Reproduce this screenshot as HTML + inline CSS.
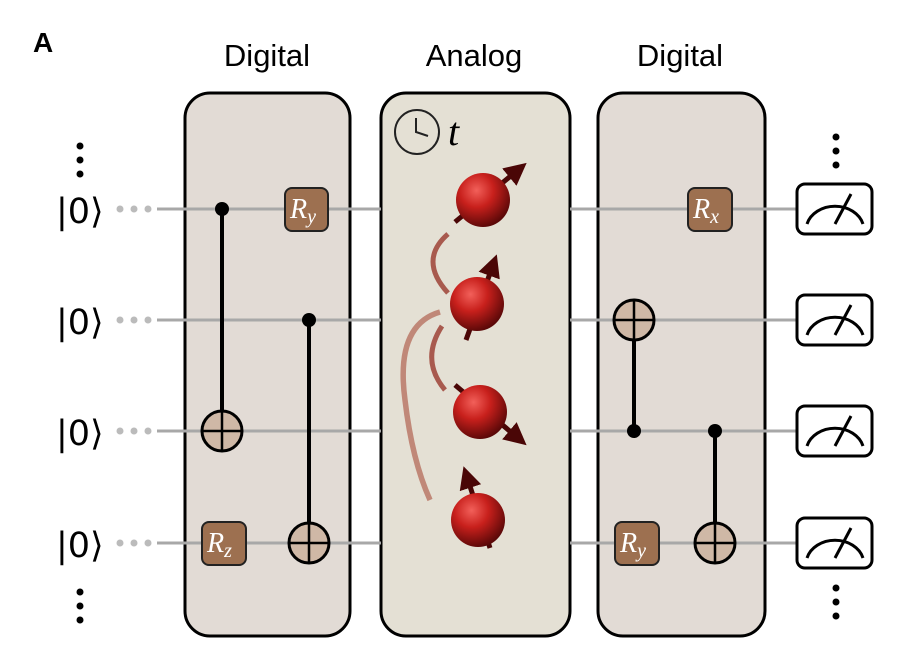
<!DOCTYPE html>
<html><head><style>body{margin:0;background:#fff}svg{display:block}</style></head><body>
<svg width="904" height="660" viewBox="0 0 904 660" xmlns="http://www.w3.org/2000/svg" font-family="Liberation Sans, sans-serif">
<defs>
<radialGradient id="sp" cx="0.38" cy="0.32" r="0.7">
<stop offset="0" stop-color="#f2605a"/><stop offset="0.45" stop-color="#c8201c"/><stop offset="1" stop-color="#5a0808"/>
</radialGradient>
<marker id="ah" viewBox="0 0 10 10" refX="5" refY="5" markerWidth="4.5" markerHeight="4.5" orient="auto"><path d="M0,0 L10,5 L0,10 z" fill="#4a0606"/></marker>
</defs>
<text x="33" y="52" font-size="28" font-weight="bold">A</text>
<g font-size="31" text-anchor="middle"><text x="267" y="66">Digital</text><text x="474" y="66">Analog</text><text x="680" y="66">Digital</text></g>
<rect x="185" y="93" width="165" height="543" rx="25" fill="#e2dbd5" stroke="#000" stroke-width="3"/>
<rect x="381" y="93" width="189" height="543" rx="25" fill="#e4e0d4" stroke="#000" stroke-width="3"/>
<rect x="598" y="93" width="167" height="543" rx="25" fill="#e2dbd5" stroke="#000" stroke-width="3"/>
<g stroke="#a8a8a8" stroke-width="3">
<line x1="157" y1="209" x2="381" y2="209"/><line x1="570" y1="209" x2="800" y2="209"/>
<line x1="157" y1="320" x2="381" y2="320"/><line x1="570" y1="320" x2="800" y2="320"/>
<line x1="157" y1="431" x2="381" y2="431"/><line x1="570" y1="431" x2="800" y2="431"/>
<line x1="157" y1="543" x2="381" y2="543"/><line x1="570" y1="543" x2="800" y2="543"/>
</g>
<g fill="#bbb">
<circle cx="120" cy="209" r="3.5"/><circle cx="134" cy="209" r="3.5"/><circle cx="148" cy="209" r="3.5"/>
<circle cx="120" cy="320" r="3.5"/><circle cx="134" cy="320" r="3.5"/><circle cx="148" cy="320" r="3.5"/>
<circle cx="120" cy="431" r="3.5"/><circle cx="134" cy="431" r="3.5"/><circle cx="148" cy="431" r="3.5"/>
<circle cx="120" cy="543" r="3.5"/><circle cx="134" cy="543" r="3.5"/><circle cx="148" cy="543" r="3.5"/>
</g>
<g font-family="DejaVu Sans, sans-serif" font-size="35"><text x="56" y="223">|0⟩</text><text x="56" y="334">|0⟩</text><text x="56" y="445">|0⟩</text><text x="56" y="557">|0⟩</text></g>
<g fill="#000">
<circle cx="80" cy="146" r="3.5"/><circle cx="80" cy="160" r="3.5"/><circle cx="80" cy="174" r="3.5"/>
<circle cx="80" cy="592" r="3.5"/><circle cx="80" cy="606" r="3.5"/><circle cx="80" cy="620" r="3.5"/>
<circle cx="836" cy="137" r="3.5"/><circle cx="836" cy="151" r="3.5"/><circle cx="836" cy="165" r="3.5"/>
<circle cx="836" cy="588" r="3.5"/><circle cx="836" cy="602" r="3.5"/><circle cx="836" cy="616" r="3.5"/>
</g>
<g stroke="#000" stroke-width="4" fill="#cfb8a6">
<line x1="222" y1="209" x2="222" y2="411"/><line x1="309" y1="320" x2="309" y2="523"/>
<line x1="634" y1="340" x2="634" y2="431"/><line x1="715" y1="431" x2="715" y2="523"/>
<circle cx="222" cy="431" r="20" stroke-width="3"/><circle cx="309" cy="543" r="20" stroke-width="3"/>
<circle cx="634" cy="320" r="20" stroke-width="3"/><circle cx="715" cy="543" r="20" stroke-width="3"/>
<g stroke-width="2.5"><path d="M202 431h40M222 411v40M289 543h40M309 523v40M614 320h40M634 300v40M695 543h40M715 523v40"/></g>
</g>
<g fill="#000"><circle cx="222" cy="209" r="7"/><circle cx="309" cy="320" r="7"/><circle cx="634" cy="431" r="7"/><circle cx="715" cy="431" r="7"/></g>
<g fill="#9d7050" stroke="#222" stroke-width="2">
<rect x="285" y="188" width="43" height="43" rx="7"/><rect x="202" y="522" width="44" height="43" rx="7"/>
<rect x="688" y="188" width="44" height="43" rx="7"/><rect x="615" y="522" width="44" height="43" rx="7"/>
</g>
<g fill="#fff" font-family="Liberation Serif, serif" font-style="italic" font-size="28">
<text x="290" y="218">R<tspan font-size="20" dy="5">y</tspan></text>
<text x="207" y="552">R<tspan font-size="20" dy="5">z</tspan></text>
<text x="693" y="218">R<tspan font-size="20" dy="5">x</tspan></text>
<text x="620" y="552">R<tspan font-size="20" dy="5">y</tspan></text>
</g>
<g stroke="#000" stroke-width="3" fill="#fff">
<rect x="797" y="184" width="75" height="50" rx="8"/><rect x="797" y="295" width="75" height="50" rx="8"/>
<rect x="797" y="406" width="75" height="50" rx="8"/><rect x="797" y="518" width="75" height="50" rx="8"/>
</g>
<g stroke="#000" stroke-width="3" fill="none">
<path d="M807 224 A29 24 0 0 1 863 224 M835 224 L851 194"/>
<path d="M807 335 A29 24 0 0 1 863 335 M835 335 L851 305"/>
<path d="M807 446 A29 24 0 0 1 863 446 M835 446 L851 416"/>
<path d="M807 558 A29 24 0 0 1 863 558 M835 558 L851 528"/>
</g>
<circle cx="417" cy="132" r="22" fill="none" stroke="#222" stroke-width="2"/>
<path d="M416 118 V132 L428 136" stroke="#222" stroke-width="2" fill="none"/>
<text x="448" y="145" font-family="Liberation Serif, serif" font-style="italic" font-size="40">t</text>
<g fill="none" stroke-width="5">
<path d="M448 234 Q418 260 448 293" stroke="#a85a4e"/>
<path d="M442 326 Q420 360 445 390" stroke="#a85a4e"/>
<path d="M440 312 Q395 325 405 400 Q412 460 430 500" stroke="#c08878" stroke-width="5.5"/>
</g>
<g stroke="#4a0606" stroke-width="5" marker-end="url(#ah)">
<line x1="455" y1="222" x2="518" y2="170"/>
<line x1="466" y1="340" x2="493" y2="265"/>
<line x1="455" y1="385" x2="518" y2="438"/>
<line x1="490" y1="548" x2="467" y2="477"/>
</g>
<circle cx="483" cy="200" r="27" fill="url(#sp)"/>
<circle cx="477" cy="304" r="27" fill="url(#sp)"/>
<circle cx="480" cy="412" r="27" fill="url(#sp)"/>
<circle cx="478" cy="520" r="27" fill="url(#sp)"/>
</svg>
</body></html>
